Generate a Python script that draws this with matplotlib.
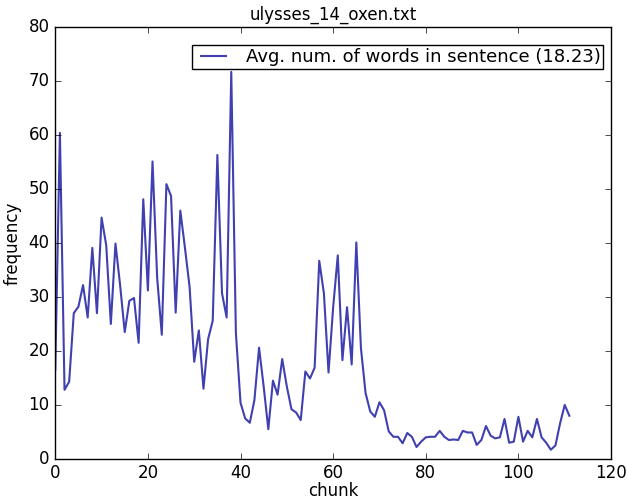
import matplotlib
matplotlib.use("Agg")
import matplotlib.pyplot as plt

# avg words per sentence, one value per chunk
chunk = list(range(112))
words = [16.5, 60.4, 12.8, 14.3, 27.0, 28.2, 32.2, 26.2, 39.1, 27.0,
         44.7, 39.6, 25.0, 39.9, 32.2, 23.5, 29.3, 29.8, 21.5, 48.1,
         31.2, 55.1, 33.6, 23.0, 50.9, 48.7, 27.1, 46.0, 39.1, 31.9,
         18.0, 23.8, 13.0, 22.2, 25.6, 56.3, 30.7, 26.2, 71.7, 23.3,
         10.4, 7.5, 6.7, 10.9, 20.6, 13.4, 5.5, 14.5, 11.9, 18.5,
         13.4, 9.2, 8.6, 7.2, 16.2, 14.9, 16.9, 36.7, 30.7, 16.0,
         28.1, 37.7, 18.3, 28.1, 17.5, 40.1, 20.5, 12.2, 8.8, 7.8,
         10.5, 9.0, 5.1, 4.1, 4.1, 2.9, 4.8, 4.1, 2.2, 3.2,
         4.0, 4.1, 4.1, 5.2, 4.1, 3.5, 3.6, 3.5, 5.2, 4.9,
         4.9, 2.6, 3.5, 6.1, 4.3, 3.8, 4.0, 7.4, 3.0, 3.2,
         7.8, 3.2, 5.2, 4.0, 7.4, 4.0, 3.0, 1.7, 2.5, 6.6,
         10.0, 8.0]

plt.style.use("classic")
plt.rcParams["font.family"] = "DejaVu Sans"

fig = plt.figure(figsize=(6.28, 5.01), dpi=100, facecolor="white")
ax = fig.add_axes([0.088, 0.084, 0.885, 0.862])

ax.plot(chunk, words, color="#4040b0", lw=1.5,
        label="Avg. num. of words in sentence (18.23)")

ax.set_xlim(0, 120)
ax.set_ylim(0, 80)
ax.set_xlabel("chunk", fontsize=12, labelpad=0)
ax.set_ylabel("frequency", fontsize=12)
ax.set_title("ulysses_14_oxen.txt", fontsize=12)
ax.tick_params(labelsize=12)
ax.legend(loc="upper right", bbox_to_anchor=(0.986, 0.958), borderaxespad=0,
          borderpad=0.15, fontsize=13, handlelength=2)

fig.savefig("out.png", dpi=100, facecolor="white")
